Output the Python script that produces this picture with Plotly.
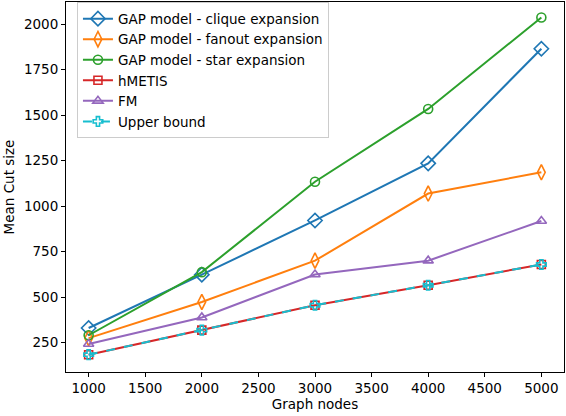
import plotly.graph_objects as go

# valeurs
nodes = [1000, 2000, 3000, 4000, 5000]
clique = [330, 623, 921, 1235, 1865]
fanout = [274, 473, 700, 1069, 1186]
star = [290, 637, 1134, 1534, 2037]
hmetis = [183, 318, 455, 565, 679]
fm = [242, 388, 624, 700, 918]
upper = [183, 318, 455, 565, 679]

names = ["GAP model - clique expansion", "GAP model - fanout expansion",
         "GAP model - star expansion", "hMETIS", "FM", "Upper bound"]
series = [clique, fanout, star, hmetis, fm, upper]
colors = ["#1f77b4", "#ff7f0e", "#2ca02c", "#d62728", "#9467bd", "#17becf"]
symbols = ["diamond-open", "diamond-tall-open", "circle-open", "square-open",
           "triangle-up-open", "cross-open"]
sizes = [11, 11, 9, 8, 9, 8]
dashes = ["solid"] * 5 + ["dash"]

fig = go.Figure()
for nm, ys, c, sym, sz, d in zip(names, series, colors, symbols, sizes, dashes):
    fig.add_trace(go.Scatter(x=nodes, y=ys, name=nm, mode="lines+markers",
                             line=dict(color=c, width=2, dash=d),
                             marker=dict(symbol=sym, size=sz,
                                         line=dict(color=c, width=1.6))))

fs = 13.5
ax = dict(showline=True, linecolor="black", linewidth=1, mirror=True,
          ticks="outside", ticklen=4, tickcolor="black", showgrid=False,
          zeroline=False, automargin=False,
          tickfont=dict(size=fs, color="black"))
fig.update_xaxes(**ax, range=[800, 5200], tickvals=list(range(1000, 5001, 500)),
                 title=dict(text="Graph nodes", font=dict(size=fs), standoff=4))
fig.update_yaxes(**ax, range=[88, 2122], tickvals=list(range(250, 2001, 250)),
                 title=dict(text="Mean Cut size", font=dict(size=fs), standoff=6))
fig.update_layout(width=566, height=416, plot_bgcolor="white",
                  paper_bgcolor="white",
                  font=dict(family="DejaVu Sans", size=fs, color="black"),
                  margin=dict(l=66, r=2, t=2, b=44),
                  legend=dict(x=0.022, y=0.999, xanchor="left", yanchor="top",
                              bgcolor="white", bordercolor="#cccccc",
                              borderwidth=1, font=dict(size=fs),
                              tracegroupgap=0, itemwidth=30))
# la page a une marge de 8 px par défaut -> on la retire
fig.write_html("out.html", config={"displayModeBar": False},
               post_script="document.body.style.margin='0';")
